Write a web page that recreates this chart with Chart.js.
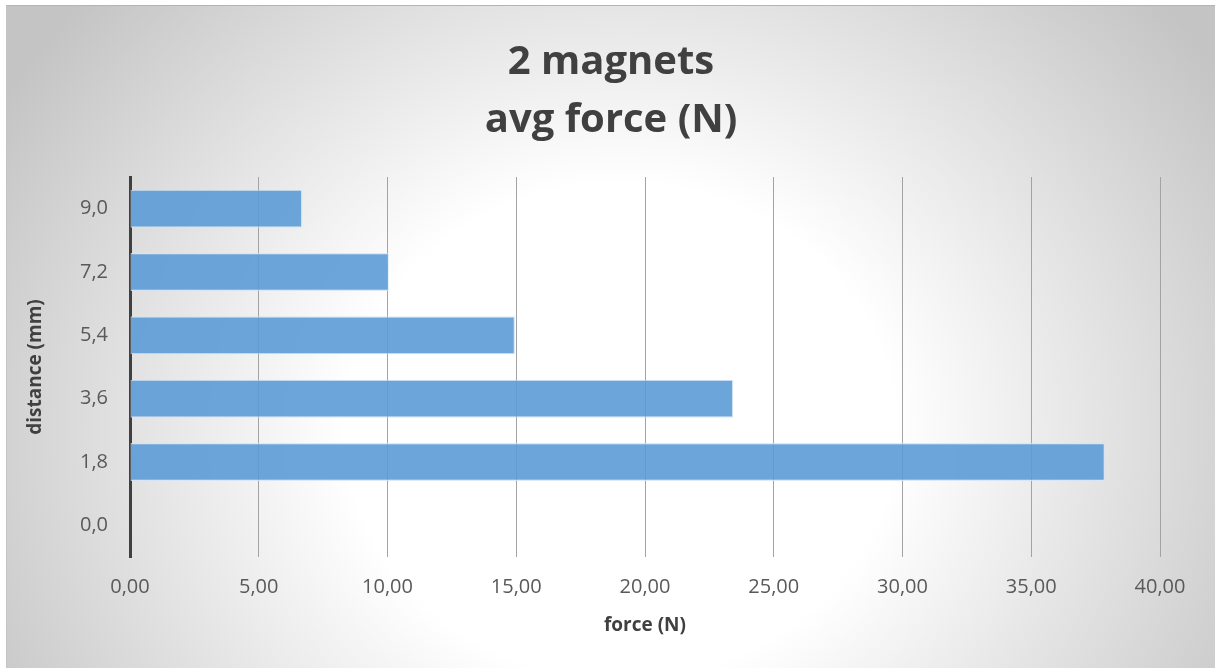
<!DOCTYPE html>
<html>
<head>
<meta charset="utf-8">
<script src="https://cdn.jsdelivr.net/npm/chart.js@4.4.1/dist/chart.umd.min.js"></script>
<style>
  html, body { margin: 0; padding: 0; background: #ffffff; }
  #frame {
    position: absolute; left: 6px; top: 5px;
    width: 1208px; height: 662px;
    border-top: 1px solid #b4b4b4;
    border-left: 1px solid #c4c4c4;
    background: radial-gradient(720px 650px at 614px 425px, #ffffff 0%, #ffffff 38%, #c4c4c4 100%);
  }
  #box { position: relative; width: 1208px; height: 662px; }
</style>
</head>
<body>
<div id="frame"><div id="box"><canvas id="chart"></canvas></div></div>
<script>
// distance between the magnets (mm), bottom to top
const distances = ['0,0', '1,8', '3,6', '5,4', '7,2', '9,0'];
// average force (N) measured at each distance
const avgForce = [null, 37.86, 23.43, 14.95, 10.05, 6.69];
// force axis ticks
const forceTicks = [0, 5, 10, 15, 20, 25, 30, 35, 40];

const FONT = "'Open Sans', 'Liberation Sans', sans-serif";

new Chart(document.getElementById('chart'), {
  type: 'bar',
  data: {
    labels: distances,
    datasets: [{
      label: 'avg force (N)',
      data: avgForce,
      backgroundColor: 'rgba(91,155,213,0.9)',
      borderColor: 'rgba(210,228,246,0.8)',
      borderWidth: 1.2,
      borderSkipped: false,
      categoryPercentage: 1.0,
      barPercentage: 0.6
    }]
  },
  options: {
    indexAxis: 'y',
    responsive: true,
    maintainAspectRatio: false,
    animation: false,
    layout: { padding: 0 },
    plugins: {
      legend: { display: false },
      tooltip: { enabled: false },
      title: {
        display: true,
        text: ['2 magnets', 'avg force (N)'],
        color: '#404040',
        font: { family: FONT, size: 40, weight: 'bold', lineHeight: 1.45 },
        padding: { top: 28, bottom: 27 }
      }
    },
    scales: {
      x: {
        type: 'linear',
        min: forceTicks[0],
        max: forceTicks[forceTicks.length - 1],
        afterBuildTicks: (scale) => { scale.ticks = forceTicks.map(v => ({ value: v })); },
        afterFit: (scale) => { scale.height = 111; },
        grid: { color: '#a3a3a3', lineWidth: 1, drawTicks: false },
        border: { display: false },
        ticks: {
          padding: 18,
          color: '#595959',
          font: { family: FONT, size: 20 },
          callback: (v) => Number(v).toFixed(2).replace('.', ',')
        },
        title: {
          display: true,
          text: 'force (N)',
          color: '#404040',
          font: { family: FONT, size: 19, weight: 'bold', lineHeight: 1.2 },
          padding: { top: 0, bottom: 31 }
        }
      },
      y: {
        reverse: true,
        afterFit: (scale) => { scale.width = 123; },
        grid: { display: false, drawTicks: false },
        border: { display: true, color: '#404040', width: 3 },
        ticks: {
          padding: 22,
          color: '#595959',
          font: { family: FONT, size: 20 }
        },
        title: {
          display: true,
          text: 'distance (mm)',
          color: '#404040',
          font: { family: FONT, size: 19, weight: 'bold', lineHeight: 1.2 },
          padding: { top: 17, bottom: 0 }
        }
      },
      // empty right-hand margin so the title centres on the whole frame
      margin: {
        type: 'linear',
        position: 'right',
        afterFit: (scale) => { scale.width = 55; },
        grid: { display: false, drawTicks: false },
        border: { display: false },
        ticks: { display: false }
      }
    }
  }
});
</script>
</body>
</html>
